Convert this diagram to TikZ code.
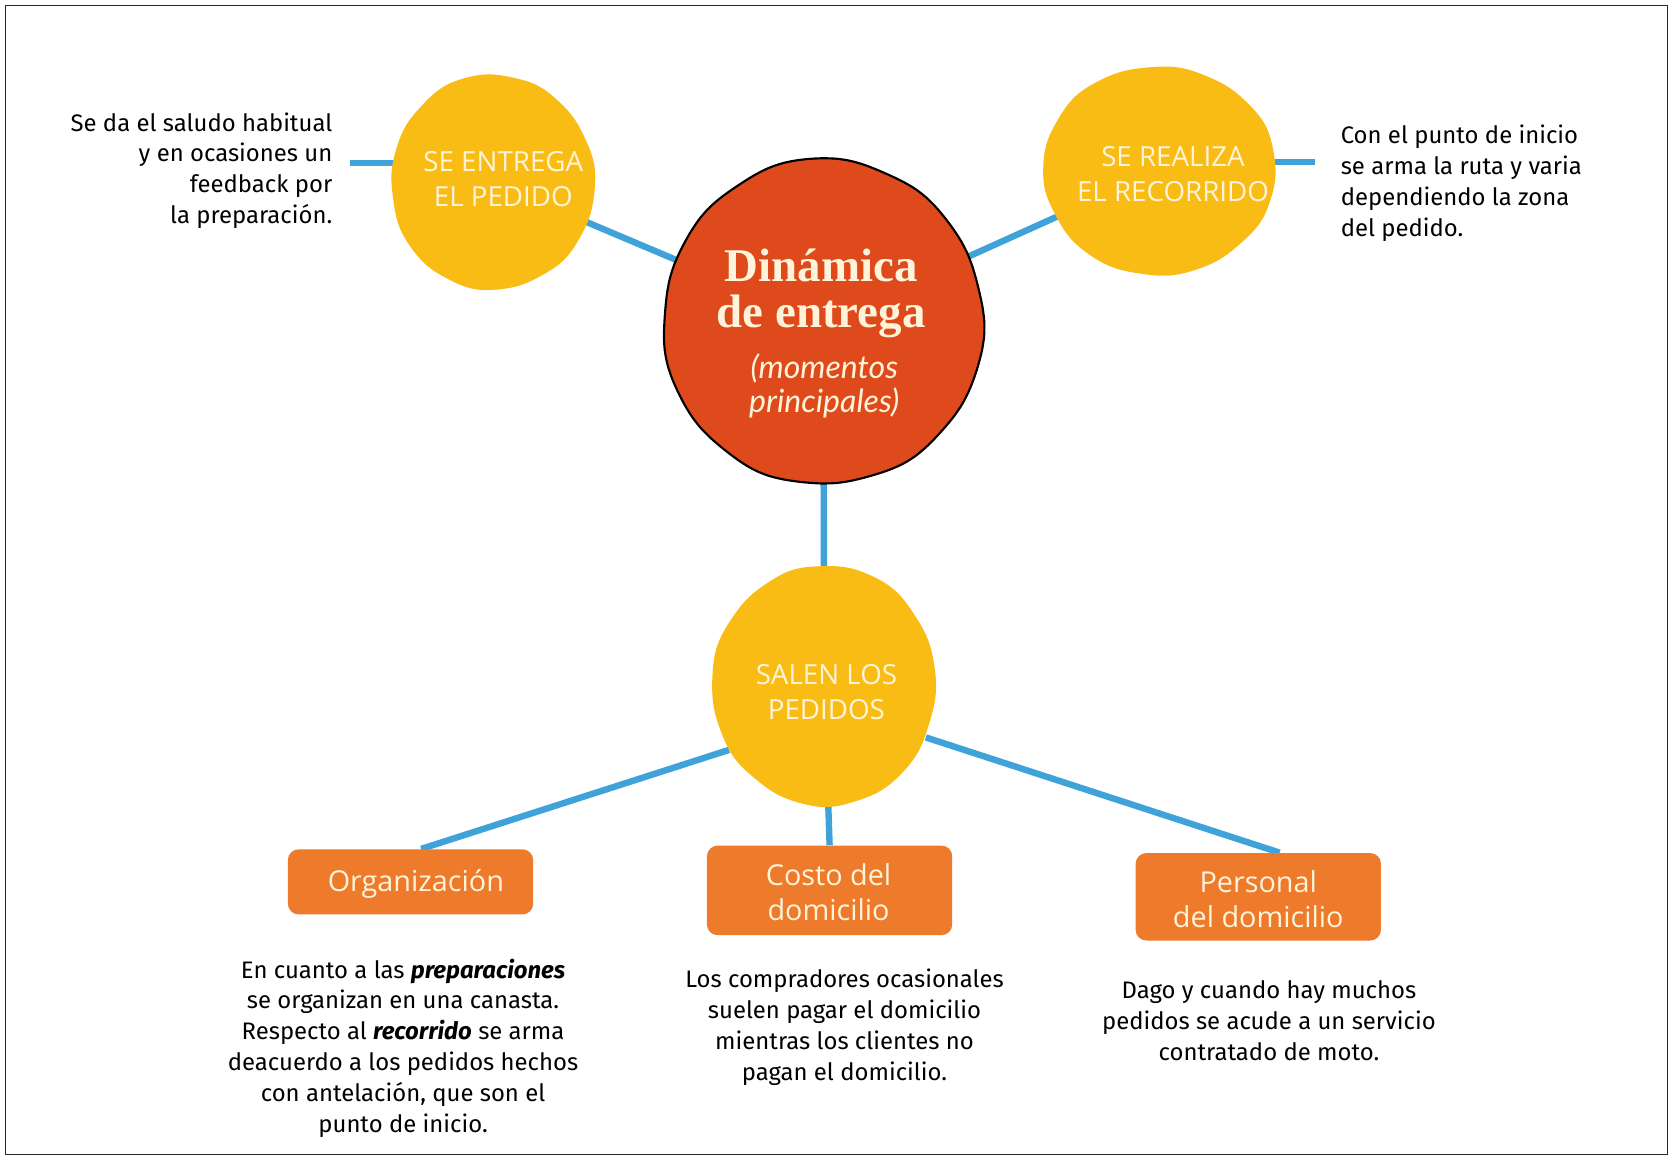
\documentclass[tikz,border=0pt]{standalone}
\usepackage{fontspec}
\setmainfont{Fira Sans}
\newfontfamily\headserif{Liberation Serif}
\newfontfamily\italsans{Lato}
\newfontfamily\blobfont{Open Sans}
\usetikzlibrary{shapes.geometric,backgrounds}
\definecolor{blob}{HTML}{F9BC15}
\definecolor{redblob}{HTML}{DF4A1C}
\definecolor{boxor}{HTML}{EE7A2B}
\definecolor{linkblue}{HTML}{3FA3DA}
\definecolor{cream}{HTML}{FFF4DA}
\newcommand{\myblob}[5]{%
  \path[#1, shift={(#2.center)}] plot[smooth cycle, domain=0:355, samples=72, variable=\t]
   ({#3*(1+0.006*sin(3*\t+#5)+0.004*sin(7*\t+2*#5)+0.003*sin(13*\t+3*#5))*cos(\t)},
    {#4*(1+0.006*sin(3*\t+#5)+0.004*sin(7*\t+2*#5)+0.003*sin(13*\t+3*#5))*sin(\t)});}
\tikzset{
  anchorshape/.style={ellipse, inner sep=0pt},
  blobtext/.style={inner sep=0pt, text=cream, align=center,
    font=\blobfont\fontsize{13}{16.5}\selectfont},
  obox/.style={rectangle, fill=boxor, inner sep=0pt, minimum width=115pt, rounded corners=5pt},
  boxtext/.style={inner sep=0pt, text=cream, align=center, font=\blobfont\fontsize{13.5}{16.5}\selectfont},
  body/.style={inner sep=0pt, font=\fontsize{11.2}{14.5}\selectfont},
  link/.style={draw=linkblue, line width=3pt}
}
\begin{document}
\begin{tikzpicture}[x=0.5pt,y=-0.5pt]
\useasboundingbox (0,0) rectangle (1568,1088);
\draw[line width=0.6pt, black!85] (5,5) rectangle (1564,1083);

% anchor shapes (invisible) for the blobs
\node[anchorshape, minimum width=150pt, minimum height=152.5pt] (red) at (772,302) {};
\node[anchorshape, minimum width=95.5pt, minimum height=101pt] (c1) at (462,171) {};
\node[anchorshape, minimum width=109pt, minimum height=98pt] (c3) at (1087,160) {};
\node[anchorshape, minimum width=105pt, minimum height=113pt] (c4) at (773,643) {};

% blob bodies
\myblob{fill=redblob, draw=black, line width=1pt}{red}{150}{152.5}{20}
\myblob{fill=blob}{c1}{95.5}{101}{70}
\myblob{fill=blob}{c3}{109}{98}{140}
\myblob{fill=blob}{c4}{105}{113}{250}

\node[blobtext] (c1t) at (472,168) {SE ENTREGA\\EL PEDIDO};
\node[blobtext] (c3t) at (1100,163) {SE REALIZA\\EL RECORRIDO};
\node[blobtext] (c4t) at (775,649) {SALEN LOS\\PEDIDOS};

\node[inner sep=0pt, text=cream, align=center, font=\headserif\bfseries\fontsize{22}{21.5}\selectfont] (title) at (770,275) {Dinámica\\de entrega};
\node[inner sep=0pt, text=cream, align=center, font=\italsans\itshape\fontsize{15}{16}\selectfont] (sub) at (773,362) {(momentos\\principales)};

% boxes
\node[obox, minimum height=30.5pt] (org) at (385,827) {};
\node[obox, minimum height=42pt] (costo) at (778,835) {};
\node[obox, minimum height=41pt] (pers) at (1180,841) {};
\node[boxtext] (orgt) at (390,829) {Organización};
\node[boxtext] (costot) at (777,837) {Costo del\\domicilio};
\node[boxtext] (perst) at (1180,843) {Personal\\del domicilio};

% texts
\node[body, align=right, anchor=east] (t1) at (312,160) {Se da el saludo habitual\\y en ocasiones un\\feedback por\\la preparación.};
\node[body, align=left, anchor=west] (t3) at (1257,172) {Con el punto de inicio\\se arma la ruta y varia\\dependiendo la zona\\del pedido.};
\node[body, align=center] (t4) at (378,983) {En cuanto a las \textbf{\textit{preparaciones}}\\se organizan en una canasta.\\Respecto al \textbf{\textit{recorrido}} se arma\\deacuerdo a los pedidos hechos\\con antelación, que son el\\punto de inicio.};
\node[body, align=center] (t5) at (792,963) {Los compradores ocasionales\\suelen pagar el domicilio\\mientras los clientes no\\pagan el domicilio.};
\node[body, align=center] (t6) at (1190,957) {Dago y cuando hay muchos\\pedidos se acude a un servicio\\contratado de moto.};

\coordinate (l1) at (328,153);
\coordinate (r1) at (1233,152);

\begin{scope}[on background layer]
\draw[link] (c1.center) -- (red.center);
\draw[link] (red.center) -- (c3.center);
\draw[link] (red.center) -- (c4.center);
\draw[link] (l1) -- (l1 -| c1.center);
\draw[link] (r1) -- (r1 -| c3.center);
\draw[link] (c4.214) -- ([xshift=5pt]org.north);
\draw[link] (c4.center) -- (costo.north);
\draw[link] (c4.333) -- ([xshift=10pt]pers.north);
\end{scope}
\end{tikzpicture}
\end{document}
